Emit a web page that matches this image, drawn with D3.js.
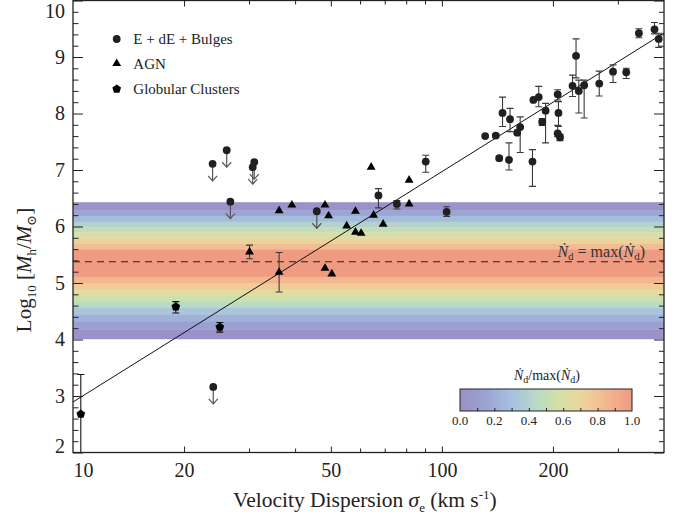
<!DOCTYPE html>
<html>
<head>
<meta charset="utf-8">
<script src="https://cdn.jsdelivr.net/npm/d3@7"></script>
<style>
  body { margin: 0; background: #fff; }
  svg { display: block; font-family: "Liberation Serif", "DejaVu Serif", serif; }
  .tick line { stroke: #222; }
</style>
</head>
<body>
<svg id="chart" width="696" height="516"></svg>
<script>
// ---- data ----
// E + dE + Bulges (circles with error bars)
const ellSigma = [342, 377, 387, 231, 226, 235, 243, 267, 291, 316, 206, 207, 206, 209, 177, 183,
                  191, 187, 146, 153, 163, 160, 131, 140, 143, 152, 176, 90.4, 67.3, 75.5, 103];
const ellLogM  = [9.42, 9.49, 9.32, 9.02, 8.49, 8.40, 8.50, 8.53, 8.74, 8.73, 8.34, 8.01, 7.65, 7.58, 8.24, 8.29,
                  8.05, 7.85, 8.01, 7.90, 7.76, 7.66, 7.60, 7.61, 7.21, 7.18, 7.15, 7.15, 6.55, 6.40, 6.26];
const ellErrUp = [0.08, 0.12, 0.10, 0.30, 0.19, 0.19, 0.09, 0.22, 0.12, 0.07, 0.08, 0.20, 0.14, 0.05, 0, 0.19,
                  0.13, 0.06, 0.28, 0.19, 0.18, 0, 0, 0.03, 0.03, 0.30, 0.21, 0.11, 0.12, 0.06, 0.09];
const ellErrDn = [0.08, 0.08, 0.15, 0.39, 0.19, 0.39, 0.58, 0.22, 0.19, 0.11, 0.10, 0.24, 0.06, 0.06, 0, 0.17,
                  0.57, 0.06, 0.24, 0.22, 0.45, 0, 0, 0.03, 0.03, 0.18, 0.44, 0.19, 0.22, 0.09, 0.08];

// upper limits (circles with downward arrows)
const ulSigma = [23.9, 26.1, 31.0, 30.7, 26.7, 45.8, 24.0];
const ulLogM  = [7.11, 7.35, 7.14, 7.05, 6.44, 6.27, 3.16];

// AGN (triangles)
const agnSigma = [64.3, 81.5, 36.2, 39.2, 48.2, 49.3, 58.3, 65.3, 69.3, 81.5, 55.2, 58.3, 60.4, 30.1, 36.2, 48.2, 50.3];
const agnLogM  = [7.05, 6.82, 6.28, 6.38, 6.38, 6.19, 6.27, 6.20, 6.04, 6.40, 6.01, 5.90, 5.88, 5.55, 5.19, 5.26, 5.16];
const agnErr   = [0, 0, 0, 0, 0, 0, 0, 0, 0, 0, 0, 0, 0, 0.12, 0.35, 0, 0];

// Globular clusters (pentagons)
const gcSigma = [10.5, 19.0, 25.0];
const gcLogM  = [2.68, 4.58, 4.22];
const gcErrUp = [0.70, 0.09, 0.08];
const gcErrDn = [1.20, 0.11, 0.09];

// best-fit relation logM = a + b log(sigma)
const fitA = -1.183;
const fitB = 4.077;

// Ndot band: stripe edges (log M) and Ndot/max value per stripe
const bandEdges  = [6.43, 6.29, 6.19, 6.085, 5.995, 5.895, 5.79, 5.69, 5.59, 5.11,
                    4.99, 4.875, 4.775, 4.67, 4.565, 4.445, 4.325, 4.18, 4.01];
const bandLevels = [0.03, 0.15, 0.28, 0.40, 0.50, 0.60, 0.70, 0.82, 1.0,
                    0.85, 0.75, 0.65, 0.55, 0.45, 0.33, 0.22, 0.12, 0.03];
const peakLogM = 5.377;

// colour map of the band / colour bar
const cmapStops  = [0, 0.15, 0.3, 0.45, 0.55, 0.65, 0.75, 0.85, 1.0];
const cmapColors = ["#9a8fc6", "#9ba4d3", "#a5c1df", "#badac6", "#cde0aa", "#e3dca0", "#f1cc98", "#f3b690", "#ee9b82"];

const xMajor = [10, 20, 50, 100, 200];
const xMinor = [30, 40, 60, 70, 80, 90, 300];
const yMajor = [2, 3, 4, 5, 6, 7, 8, 9, 10];
const cbTicks = [0, 0.2, 0.4, 0.6, 0.8, 1.0];

const ink = "#231f20";

const svg = d3.select("#chart");

const x = d3.scaleLog().domain([10, 400]).range([73, 664]);
const y = d3.scaleLinear().domain([2, 10]).range([452.5, 0.5]);
const cmap = d3.scaleLinear().domain(cmapStops).range(cmapColors);

svg.append("clipPath").attr("id", "plotClip")
  .append("rect")
  .attr("x", x.range()[0]).attr("y", y.range()[1])
  .attr("width", x.range()[1] - x.range()[0])
  .attr("height", y.range()[0] - y.range()[1]);

const plot = svg.append("g").attr("clip-path", "url(#plotClip)");

// band stripes
plot.selectAll("rect.band")
  .data(bandLevels)
  .enter().append("rect")
  .attr("class", "band")
  .attr("x", x.range()[0])
  .attr("width", x.range()[1] - x.range()[0])
  .attr("y", (d, i) => y(bandEdges[i]))
  .attr("height", (d, i) => y(bandEdges[i + 1]) - y(bandEdges[i]) + 0.3)
  .attr("fill", d => cmap(d));

// dashed peak line
plot.append("line")
  .attr("x1", x.range()[0]).attr("x2", x.range()[1])
  .attr("y1", y(peakLogM)).attr("y2", y(peakLogM))
  .attr("stroke", "#222").attr("stroke-width", 1.1)
  .attr("stroke-dasharray", "7,5");

const peakLabel = svg.append("text")
  .attr("x", 645).attr("y", 257)
  .attr("text-anchor", "end")
  .attr("font-size", 16).attr("fill", "#333");
peakLabel.append("tspan").attr("font-style", "italic").text("Ṅ");
peakLabel.append("tspan").attr("font-size", 11).attr("dy", 3).text("d");
peakLabel.append("tspan").attr("dy", -3).text(" = max(");
peakLabel.append("tspan").attr("font-style", "italic").text("Ṅ");
peakLabel.append("tspan").attr("font-size", 11).attr("dy", 3).text("d");
peakLabel.append("tspan").attr("dy", -3).text(")");

// fit line
const fitLine = d3.line()
  .x(d => x(d))
  .y(d => y(fitA + fitB * Math.log10(d)));
plot.append("path")
  .datum([10, 400])
  .attr("d", fitLine)
  .attr("fill", "none")
  .attr("stroke", "#111")
  .attr("stroke-width", 1);

// error bars
function errorBars(sig, val, up, dn, color) {
  const idx = d3.range(sig.length).filter(i => up[i] > 0 || dn[i] > 0);
  const g = plot.append("g").attr("stroke", color).attr("stroke-width", 1.1).attr("fill", "none");
  idx.forEach(i => {
    const cx = x(sig[i]);
    const y1 = y(val[i] + up[i]);
    const y2 = y(val[i] - dn[i]);
    g.append("line").attr("x1", cx).attr("x2", cx).attr("y1", y1).attr("y2", y2);
    g.append("line").attr("x1", cx - 3.5).attr("x2", cx + 3.5).attr("y1", y1).attr("y2", y1);
    g.append("line").attr("x1", cx - 3.5).attr("x2", cx + 3.5).attr("y1", y2).attr("y2", y2);
  });
}
errorBars(ellSigma, ellLogM, ellErrUp, ellErrDn, "#3a3a3a");
errorBars(agnSigma, agnLogM, agnErr, agnErr, "#3a3a3a");
errorBars(gcSigma, gcLogM, gcErrUp, gcErrDn, "#111");

// upper-limit arrows
const arrows = plot.append("g").attr("stroke", "#555").attr("stroke-width", 1.2).attr("fill", "none");
ulSigma.forEach((s, i) => {
  const cx = x(s), cy = y(ulLogM[i]), tip = cy + 17;
  arrows.append("line").attr("x1", cx).attr("x2", cx).attr("y1", cy).attr("y2", tip);
  arrows.append("path").attr("d", `M${cx - 4.5},${tip - 5}L${cx},${tip}L${cx + 4.5},${tip - 5}`);
});

// markers
const symbolPentagon = {
  draw(ctx, size) {
    const r = Math.sqrt(size / 2.378);
    for (let i = 0; i < 5; i++) {
      const a = -Math.PI / 2 + i * 2 * Math.PI / 5;
      if (i === 0) ctx.moveTo(r * Math.cos(a), r * Math.sin(a));
      else ctx.lineTo(r * Math.cos(a), r * Math.sin(a));
    }
    ctx.closePath();
  }
};
const triPath = d3.symbol(d3.symbolTriangle, 34)();
const pentPath = d3.symbol(symbolPentagon, 50)();

plot.selectAll("circle.ell")
  .data(d3.range(ellSigma.length))
  .enter().append("circle")
  .attr("cx", i => x(ellSigma[i])).attr("cy", i => y(ellLogM[i]))
  .attr("r", 3.9).attr("fill", ink);

plot.selectAll("circle.ul")
  .data(d3.range(ulSigma.length))
  .enter().append("circle")
  .attr("cx", i => x(ulSigma[i])).attr("cy", i => y(ulLogM[i]))
  .attr("r", 3.9).attr("fill", ink);

plot.selectAll("path.agn")
  .data(d3.range(agnSigma.length))
  .enter().append("path")
  .attr("d", triPath)
  .attr("transform", i => `translate(${x(agnSigma[i])},${y(agnLogM[i])})`)
  .attr("fill", "#000");

plot.selectAll("path.gc")
  .data(d3.range(gcSigma.length))
  .enter().append("path")
  .attr("d", pentPath)
  .attr("transform", i => `translate(${x(gcSigma[i])},${y(gcLogM[i])})`)
  .attr("fill", "#000");

// ---- axes ----
function styleAxis(g) {
  g.select(".domain").remove();
  g.attr("font-family", null);
  g.selectAll(".tick line").attr("stroke", "#222").attr("stroke-width", 1);
  g.selectAll(".tick text").attr("fill", "#222").attr("font-size", 20);
}

const x0 = x.range()[0], x1 = x.range()[1], yB = y.range()[0], yT = y.range()[1];

// bottom
const xb = svg.append("g").attr("transform", `translate(0,${yB})`)
  .call(d3.axisBottom(x).tickValues(xMajor).tickSize(-6).tickPadding(10).tickFormat(d3.format("d")))
  .call(styleAxis);
xb.selectAll(".tick").filter(d => d === 10).select("text").attr("text-anchor", "start");
xb.selectAll(".tick").filter(d => d === 10).select("line").remove();
svg.append("g").attr("transform", `translate(0,${yB})`)
  .call(d3.axisBottom(x).tickValues(xMinor).tickSize(-4).tickFormat(""))
  .call(styleAxis);
// top
svg.append("g").attr("transform", `translate(0,${yT})`)
  .call(d3.axisTop(x).tickValues(xMajor.slice(1)).tickSize(-6).tickFormat(""))
  .call(styleAxis);
svg.append("g").attr("transform", `translate(0,${yT})`)
  .call(d3.axisTop(x).tickValues(xMinor).tickSize(-4).tickFormat(""))
  .call(styleAxis);

const yMinor = d3.range(2, 10.01, 0.2).filter(v => Math.abs(v - Math.round(v)) > 0.01);
// left
const yl = svg.append("g").attr("transform", `translate(${x0},0)`)
  .call(d3.axisLeft(y).tickValues(yMajor).tickSize(-10).tickPadding(8).tickFormat(d3.format("d")))
  .call(styleAxis);
yl.selectAll(".tick").filter(d => d === 10).select("text").attr("y", 11);
yl.selectAll(".tick").filter(d => d === 2).select("text").attr("y", -6);
svg.append("g").attr("transform", `translate(${x0},0)`)
  .call(d3.axisLeft(y).tickValues(yMinor).tickSize(-5.5).tickFormat(""))
  .call(styleAxis);
// right
svg.append("g").attr("transform", `translate(${x1},0)`)
  .call(d3.axisRight(y).tickValues(yMajor).tickSize(-10).tickFormat(""))
  .call(styleAxis);
svg.append("g").attr("transform", `translate(${x1},0)`)
  .call(d3.axisRight(y).tickValues(yMinor).tickSize(-5).tickFormat(""))
  .call(styleAxis);

// frame
svg.append("rect")
  .attr("x", x0).attr("y", yT).attr("width", x1 - x0).attr("height", yB - yT)
  .attr("fill", "none").attr("stroke", "#222").attr("stroke-width", 1.3);

// axis titles
const xTitle = svg.append("text")
  .attr("x", 233).attr("y", 507)
  .attr("font-size", 21.5).attr("fill", "#222");
xTitle.append("tspan").text("Velocity Dispersion ");
xTitle.append("tspan").attr("font-style", "italic").text("σ");
xTitle.append("tspan").attr("font-size", 13).attr("dy", 5).text("e");
xTitle.append("tspan").attr("dy", -5).text(" (km s");
xTitle.append("tspan").attr("font-size", 13).attr("dy", -8).text("-1");
xTitle.append("tspan").attr("dy", 8).text(")");

const yTitle = svg.append("text")
  .attr("transform", "translate(31,270) rotate(-90)")
  .attr("text-anchor", "middle")
  .attr("font-size", 21).attr("fill", "#222");
yTitle.append("tspan").text("Log");
yTitle.append("tspan").attr("font-size", 13).attr("dy", 5).text("10");
yTitle.append("tspan").attr("dy", -5).text(" [");
yTitle.append("tspan").attr("font-style", "italic").text("M");
yTitle.append("tspan").attr("font-size", 13).attr("dy", 5).text("h");
yTitle.append("tspan").attr("dy", -5).text("/");
yTitle.append("tspan").attr("font-style", "italic").text("M");
yTitle.append("tspan").attr("font-size", 13).attr("dy", 5).text("⊙");
yTitle.append("tspan").attr("dy", -5).text("]");

// ---- legend ----
const legendItems = ["E + dE + Bulges", "AGN", "Globular Clusters"];
const legendY = [39, 63.5, 89];
const legend = svg.append("g");
legend.append("circle").attr("cx", 116.7).attr("cy", legendY[0]).attr("r", 3.9).attr("fill", ink);
legend.append("path").attr("d", triPath).attr("transform", `translate(116.7,${legendY[1]})`).attr("fill", "#000");
legend.append("path").attr("d", pentPath).attr("transform", `translate(116.7,${legendY[2]})`).attr("fill", "#000");
legend.selectAll("text")
  .data(legendItems)
  .enter().append("text")
  .attr("x", 133.3).attr("y", (d, i) => legendY[i] + 5)
  .attr("font-size", 15).attr("fill", "#222")
  .text(d => d);

// ---- colour bar ----
const cbX = d3.scaleLinear().domain([0, 1]).range([460, 632]);
const cbTop = 389, cbH = 22;
const grad = svg.append("defs").append("linearGradient").attr("id", "cbGrad");
grad.selectAll("stop")
  .data(cmapStops)
  .enter().append("stop")
  .attr("offset", d => d)
  .attr("stop-color", (d, i) => cmapColors[i]);
svg.append("rect")
  .attr("x", cbX(0)).attr("y", cbTop).attr("width", cbX(1) - cbX(0)).attr("height", cbH)
  .attr("fill", "url(#cbGrad)").attr("stroke", "#222").attr("stroke-width", 1);
svg.append("g").attr("transform", `translate(0,${cbTop + cbH})`)
  .call(d3.axisBottom(cbX).tickValues(d3.range(0.1, 0.95, 0.1)).tickSize(-3).tickFormat(""))
  .call(g => { g.select(".domain").remove(); g.selectAll(".tick line").attr("stroke", "#222"); });
svg.selectAll("text.cbt")
  .data(cbTicks)
  .enter().append("text")
  .attr("x", d => cbX(d)).attr("y", 425)
  .attr("text-anchor", "middle")
  .attr("font-size", 13).attr("fill", "#222")
  .text(d => d.toFixed(1));
const cbTitle = svg.append("text")
  .attr("x", 547).attr("y", 380)
  .attr("text-anchor", "middle")
  .attr("font-size", 14).attr("fill", "#222");
cbTitle.append("tspan").attr("font-style", "italic").text("Ṅ");
cbTitle.append("tspan").attr("font-size", 10).attr("dy", 3).text("d");
cbTitle.append("tspan").attr("dy", -3).text("/max(");
cbTitle.append("tspan").attr("font-style", "italic").text("Ṅ");
cbTitle.append("tspan").attr("font-size", 10).attr("dy", 3).text("d");
cbTitle.append("tspan").attr("dy", -3).text(")");
</script>
</body>
</html>
